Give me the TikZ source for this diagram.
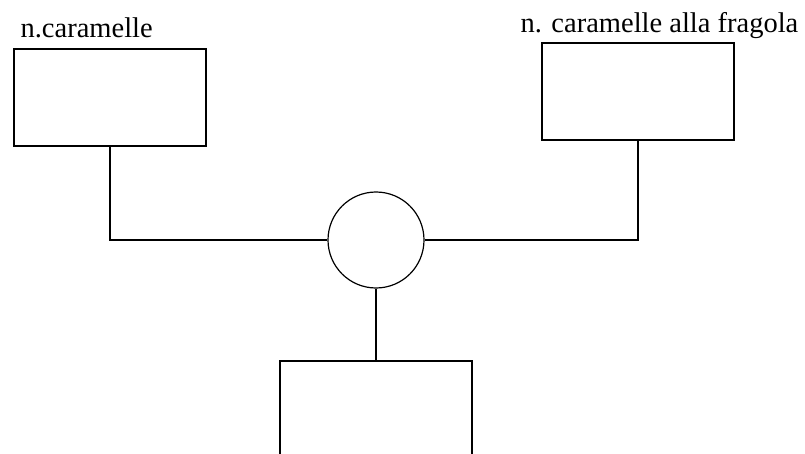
\documentclass[tikz,border=0pt]{standalone}
\usepackage{fontspec}
\setmainfont{Liberation Serif}
\usepackage{tikz}

\begin{document}
\begin{tikzpicture}[x=1pt, y=-1pt, line width=1.2pt,
	box/.style={draw, rectangle, minimum width=192pt, inner sep=0pt},
	label/.style={anchor=base west, inner sep=0pt, font=\fontsize{28.5}{30}\selectfont}]
	\useasboundingbox (0,0) rectangle (805,454);

	\node[box, minimum height=97pt] (caramelle) at (110, 97.5) {};
	\node[box, minimum height=97pt] (fragola) at (638, 91.5) {};
	\node[draw, circle, minimum size=96pt, inner sep=0pt] (op) at (376, 240) {};
	\node[box, minimum height=120pt] (risultato) at (376, 421) {};

	\node[label] (labcaramelle) at (20, 37.7) {n.caramelle};
	\node[label] (labfragola) at (520, 33) {n. caramelle alla fragola};

	\draw (caramelle.south) |- (op.west);
	\draw (fragola.south) |- (op.east);
	\draw (op.south) -- (risultato.north);
\end{tikzpicture}
\end{document}
